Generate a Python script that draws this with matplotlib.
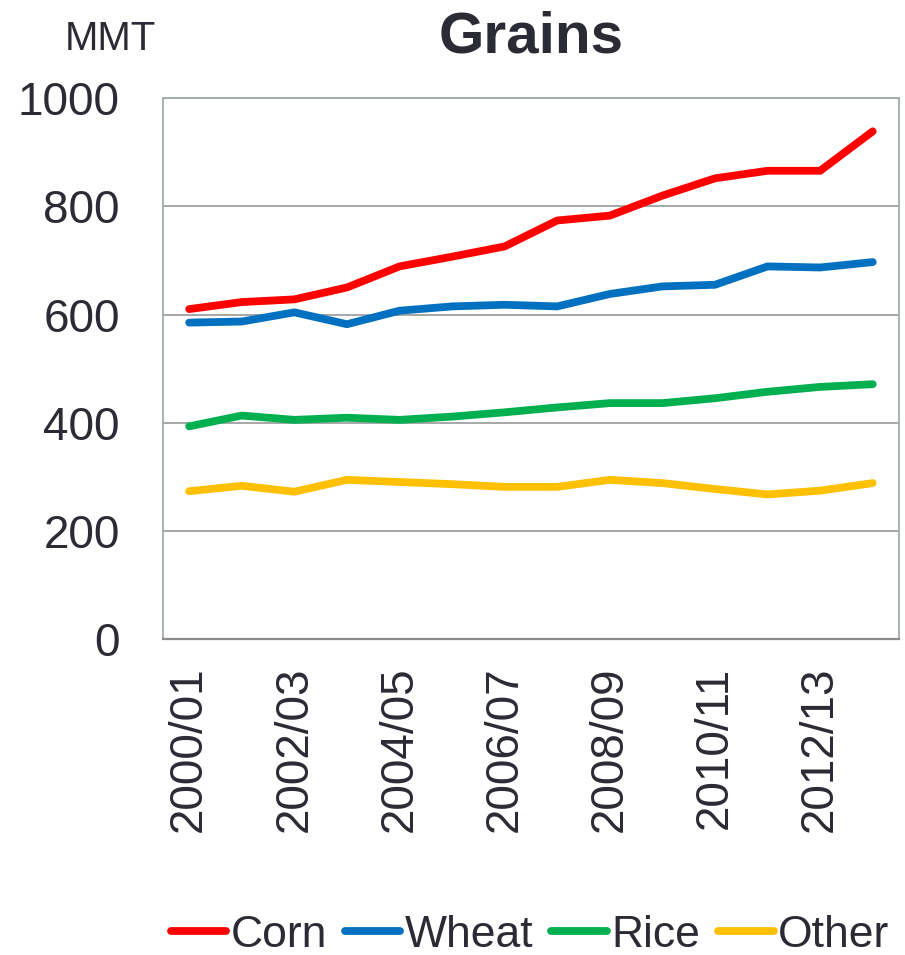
import matplotlib
matplotlib.use("Agg")
import matplotlib.pyplot as plt

# Marketing years and production (million metric tons)
years = [
    "2000/01", "2001/02", "2002/03", "2003/04", "2004/05", "2005/06", "2006/07",
    "2007/08", "2008/09", "2009/10", "2010/11", "2011/12", "2012/13", "2013/14",
]
corn = [610, 623, 628, 650, 689, 707, 726, 774, 783, 820, 852, 866, 866, 939]
wheat = [585, 587, 604, 582, 607, 615, 618, 615, 638, 652, 655, 689, 687, 697]
rice = [393, 413, 405, 409, 405, 411, 419, 428, 436, 436, 445, 457, 466, 471]
other = [273, 283, 272, 294, 290, 286, 281, 281, 294, 288, 277, 267, 274, 288]

series_names = ["Corn", "Wheat", "Rice", "Other"]
series_colors = ["#FF0000", "#0070C0", "#00B050", "#FFC000"]
yticks = [0, 200, 400, 600, 800, 1000]

text_color = "#2b2b35"
plt.rcParams["font.family"] = ["Liberation Sans", "DejaVu Sans"]

fig = plt.figure(figsize=(9.05, 9.55), dpi=100)
ax = fig.add_axes([0.180, 0.3312, 0.8134, 0.5658])

x = list(range(len(years)))
for name, vals, col in zip(series_names, [corn, wheat, rice, other], series_colors):
    ax.plot(x, vals, color=col, lw=5.6, label=name,
            solid_capstyle="round", solid_joinstyle="round", zorder=3)

ax.set_xlim(-0.5, len(years) - 0.5)
ax.set_ylim(0, 1000)
ax.set_yticks(yticks)
ax.set_yticklabels([str(v) for v in yticks])
ax.set_xticks(x[::2])
ax.set_xticklabels(years[::2], rotation=90)

ax.grid(axis="y", color="#A0A0A0", lw=1.3, zorder=1)
for side in ["top", "left", "right"]:
    ax.spines[side].set_color("#A4ACA6")
    ax.spines[side].set_linewidth(1.3)
ax.spines["bottom"].set_color("#8C8C8C")
ax.spines["bottom"].set_linewidth(1.6)

ax.tick_params(axis="y", length=0, pad=31, labelsize=33, labelcolor=text_color)
ax.tick_params(axis="x", length=0, pad=20, labelsize=33, labelcolor=text_color)

ax.set_title("Grains", fontsize=42, fontweight="bold", color=text_color, pad=33)
fig.text(65 / 905, 1 - 50 / 955, "MMT", fontsize=29, color=text_color,
         ha="left", va="baseline")

fig.legend(loc="center", bbox_to_anchor=(530 / 905, 1 - 935 / 955), ncol=4,
           frameon=False, fontsize=32, handlelength=1.25, handletextpad=0.1,
           columnspacing=0.4, labelcolor=text_color, borderaxespad=0)

fig.savefig("out.png", dpi=100, facecolor="white")
